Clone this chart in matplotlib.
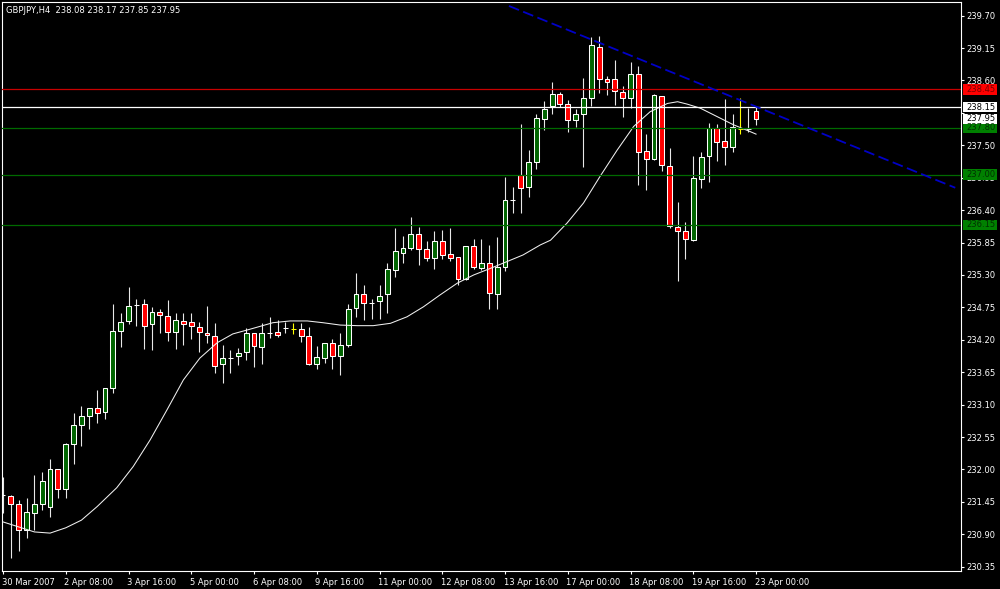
import matplotlib
matplotlib.use("Agg")
import matplotlib.pyplot as plt
import matplotlib.transforms as mtransforms
from matplotlib.patches import Rectangle

# ---------------- data ----------------
symbol_title = "GBPJPY,H4  238.08 238.17 237.85 237.95"

opens = [231.57, 231.55, 231.41, 230.98, 231.26, 231.41, 231.37, 232.00, 231.66, 232.44,
         232.75, 232.91, 233.04, 232.97, 233.39, 234.35, 234.525, 234.785, 234.81, 234.47,
         234.68, 234.61, 234.33, 234.525, 234.51, 234.42, 234.31, 234.27, 233.79, 233.89,
         233.93, 234.00, 234.32, 234.08, 234.32, 234.33, 234.40, 234.39, 234.38, 234.27,
         233.79, 233.89, 234.14, 233.93, 234.12, 234.74, 234.97, 234.83, 234.85, 234.97,
         235.39, 235.68, 235.75, 236.00, 235.735, 235.58, 235.88, 235.65, 235.61, 235.23,
         235.80, 235.41, 235.50, 234.97, 235.44, 236.57, 237.00, 236.79, 237.21, 237.95,
         238.16, 238.37, 238.20, 237.93, 238.03, 238.31, 239.17, 238.62, 238.62, 238.41,
         238.31, 238.71, 237.40, 237.26, 238.33, 237.15, 236.12, 236.05, 235.89, 236.935,
         237.32, 237.79, 237.58, 237.47, 237.78, 237.78, 238.08]
highs = [231.88, 231.56, 231.48, 231.51, 231.91, 231.95, 232.17, 232.00, 232.45, 232.96,
         233.07, 233.05, 233.35, 233.38, 234.81, 234.65, 235.09, 234.89, 234.89, 234.76,
         234.73, 234.88, 234.65, 234.65, 234.65, 234.51, 234.77, 234.48, 234.11, 234.02,
         234.06, 234.40, 234.32, 234.48, 234.59, 234.54, 234.51, 234.48, 234.48, 234.42,
         234.10, 234.15, 234.21, 234.32, 234.81, 235.33, 235.13, 234.90, 235.13, 235.51,
         236.09, 235.96, 236.28, 236.12, 235.87, 236.04, 236.06, 236.09, 235.61, 235.80,
         235.91, 235.91, 235.81, 235.94, 236.97, 236.80, 237.86, 237.42, 238.03, 238.25,
         238.58, 238.41, 238.27, 238.12, 238.64, 239.34, 239.35, 238.68, 238.95, 238.50,
         238.92, 238.84, 237.70, 238.37, 238.34, 237.46, 236.53, 236.20, 237.32, 237.38,
         237.88, 237.87, 238.28, 238.04, 238.30, 238.13, 238.17]
lows = [231.26, 230.49, 230.62, 230.83, 230.97, 231.31, 231.19, 231.51, 231.51, 232.09,
        232.40, 232.69, 232.79, 232.85, 233.30, 234.08, 234.47, 234.44, 234.04, 234.02,
        234.31, 234.18, 234.04, 234.11, 234.21, 234.00, 234.14, 233.63, 233.47, 233.63,
        233.77, 233.86, 233.74, 233.79, 234.23, 234.25, 234.31, 234.30, 234.17, 233.77,
        233.70, 233.80, 233.70, 233.61, 234.08, 234.59, 234.54, 234.55, 234.56, 234.66,
        235.26, 235.51, 235.73, 235.47, 235.53, 235.40, 235.57, 235.53, 235.13, 235.21,
        235.40, 235.39, 234.73, 234.72, 235.36, 236.35, 236.36, 236.63, 237.09, 237.76,
        238.03, 238.15, 237.73, 237.81, 237.14, 238.16, 238.38, 238.35, 238.18, 237.98,
        238.13, 236.82, 236.75, 237.25, 237.07, 236.09, 235.19, 235.57, 235.88, 236.77,
        236.87, 237.24, 237.17, 237.38, 237.70, 237.73, 237.85]
closes = [231.57, 231.41, 230.98, 231.28, 231.41, 231.80, 232.00, 231.66, 232.44, 232.75,
          232.91, 233.05, 232.95, 233.38, 234.35, 234.51, 234.77, 234.785, 234.44, 234.67,
          234.62, 234.33, 234.54, 234.47, 234.44, 234.33, 234.28, 233.76, 233.89, 233.89,
          233.98, 234.31, 234.10, 234.31, 234.32, 234.28, 234.40, 234.39, 234.27, 233.79,
          233.90, 234.14, 233.93, 234.12, 234.72, 234.97, 234.82, 234.83, 234.95, 235.40,
          235.70, 235.75, 236.00, 235.735, 235.58, 235.88, 235.64, 235.58, 235.23, 235.80,
          235.44, 235.51, 234.99, 235.43, 236.57, 236.57, 236.77, 237.21, 237.97, 238.12,
          238.37, 238.20, 237.93, 238.03, 238.31, 239.20, 238.62, 238.58, 238.42, 238.31,
          238.71, 237.39, 237.26, 238.35, 237.17, 236.13, 236.04, 235.905, 236.94, 237.31,
          237.79, 237.56, 237.47, 237.81, 237.78, 237.78, 237.95]
yellow_bars = [37, 94]

# smoothed moving average (bar position, value)
ma_bar = [0, 4, 6, 8, 10, 12, 14.5, 16.6, 18.75, 20.9, 23, 25.1, 27.3, 29.3, 31.5,
          34.4, 36.6, 38.8, 40.8, 43, 45.2, 47.2, 49.4, 51.5, 53.6, 55.7, 57.9, 60,
          62.1, 64.3, 66.3, 68.5, 69.8, 71.9, 74, 76.1, 78.3, 80.4, 82.5, 84.7, 86,
          87.2, 88.9, 91, 93.1, 95.3, 96]
ma_val = [231.11, 230.94, 230.92, 231.01, 231.14, 231.37, 231.69, 232.05, 232.50, 233.01,
          233.52, 233.89, 234.15, 234.30, 234.38, 234.49, 234.52, 234.52, 234.49, 234.45,
          234.44, 234.44, 234.48, 234.59, 234.76, 234.96, 235.16, 235.30, 235.41, 235.53,
          235.64, 235.81, 235.89, 236.18, 236.52, 236.97, 237.42, 237.82, 238.07, 238.21,
          238.24, 238.20, 238.13, 237.99, 237.85, 237.73, 237.69]

# trend line (blue dashed) end points: (bar, price)
trend_bar = [64.5, 121.4]
trend_price = [239.865, 236.78]

# horizontal levels
level_prices = [238.45, 238.15, 237.80, 237.00, 236.15]
level_kinds = ["red", "white", "green", "green", "green"]
bid_price = 237.95

ytick_vals = [239.70, 239.15, 238.60, 238.05, 237.50, 236.95, 236.40, 235.85, 235.30,
              234.75, 234.20, 233.65, 233.10, 232.55, 232.00, 231.45, 230.90, 230.35]
ytick_hidden = [238.05]   # label fully covered by the price boxes in the original
xtick_bars = [0, 8, 16, 24, 32, 40, 48, 56, 64, 72, 80, 88, 96]
xtick_labels = ["30 Mar 2007", "2 Apr 08:00", "3 Apr 16:00", "5 Apr 00:00", "6 Apr 08:00",
                "9 Apr 16:00", "11 Apr 00:00", "12 Apr 08:00", "13 Apr 16:00",
                "17 Apr 00:00", "18 Apr 08:00", "19 Apr 16:00", "23 Apr 00:00"]

# ---------------- figure ----------------
W, H = 1000, 589
plt.rcParams['font.family'] = ['DejaVu Sans']
fig = plt.figure(figsize=(W / 100, H / 100), dpi=100, facecolor='black')
ax = fig.add_axes([2 / W, 18 / H, 959 / W, 569 / H], facecolor='black')

x = list(range(len(opens)))
body_colors = []
for i, (o, c) in enumerate(zip(opens, closes)):
    if i in yellow_bars:
        body_colors.append('#ffff00')
    elif c > o:
        body_colors.append('#006400')
    elif c < o:
        body_colors.append('#ff0000')
    else:
        body_colors.append('#ffffff')
edge_colors = ['#ffff00' if i in yellow_bars else '#ffffff' for i in x]
wick_colors = ['#ffff00' if i in yellow_bars else '#e8e8e8' for i in x]

ax.vlines(x, lows, highs, colors=wick_colors, linewidth=0.8, zorder=2)
heights = [c - o for o, c in zip(opens, closes)]
ax.bar(x, heights, bottom=opens, width=0.62, color=body_colors,
       edgecolor=edge_colors, linewidth=0.75, zorder=3)

ax.plot(ma_bar, ma_val, color='#f0f0f0', linewidth=0.75, zorder=4)

line_colors = {"red": '#c80000', "white": '#ffffff', "green": '#006a00'}
for p, k in zip(level_prices, level_kinds):
    ax.axhline(p, color=line_colors[k], linewidth=0.9, zorder=5)

ax.plot(trend_bar, trend_price, color='#0000c8', linewidth=1.3,
        linestyle=(0, (6, 2.5)), zorder=6)

ax.set_xlim(-0.1275, 122.13)
ax.set_ylim(230.277, 239.932)

for s in ax.spines.values():
    s.set_color('white')
    s.set_linewidth(0.8)

ax.yaxis.tick_right()
ax.set_yticks(ytick_vals)
ax.set_yticklabels(["" if v in ytick_hidden else f"{v:.2f}" for v in ytick_vals])
ax.set_xticks(xtick_bars)
ax.set_xticklabels(xtick_labels, ha='left')
ax.tick_params(axis='both', colors='white', labelcolor='white', labelsize=6,
               length=2.2, width=0.8, direction='out')
ax.tick_params(axis='y', pad=1.5)
ax.tick_params(axis='x', pad=2.5)
offset = mtransforms.ScaledTranslation(-1.5 / 100, 0, fig.dpi_scale_trans)
for lab in ax.get_xticklabels():
    lab.set_transform(lab.get_transform() + offset)

# price label boxes at the right
box_specs = []
for p, k in zip(level_prices, level_kinds):
    box_specs.append((p, k))
box_specs.append((bid_price, "white"))
box_face = {"red": '#ff0000', "white": '#ffffff', "green": '#008000'}
box_text = {"red": '#7a0000', "white": '#000000', "green": '#003000'}
bt = mtransforms.blended_transform_factory(fig.transFigure, ax.transData)
half_h = 5.3 / 58.93
for p, k in box_specs:
    ax.add_patch(Rectangle((963 / W, p - half_h), 34 / W, 2 * half_h, transform=bt,
                           facecolor=box_face[k], edgecolor='none', clip_on=False, zorder=10))
    ax.text(966 / W, p, f"{p:.2f}", transform=bt, color=box_text[k], fontsize=6,
            va='center', ha='left', clip_on=False, zorder=11)

fig.text(6 / W, 1 - 10.7 / H, symbol_title, color='white', fontsize=6,
         va='center', ha='left')

fig.savefig("out.png", dpi=100, facecolor='black')
